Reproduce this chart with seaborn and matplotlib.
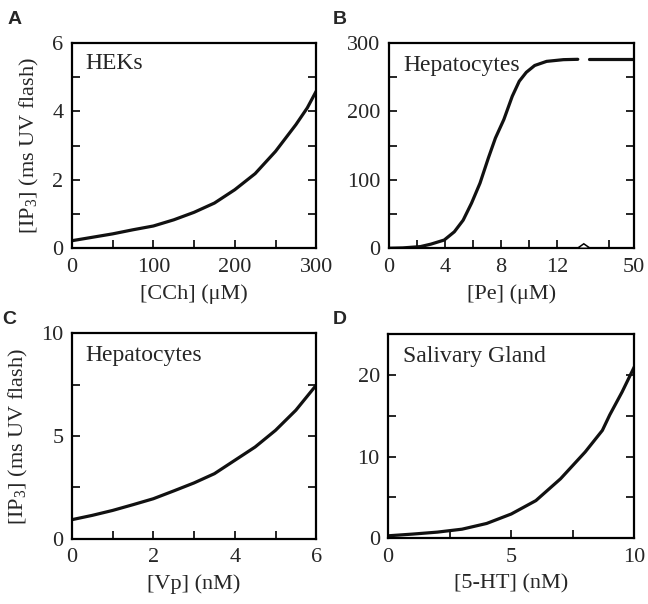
#!/usr/bin/env python3
"""Four-panel IP3 dose-response figure (HEKs, hepatocytes, salivary gland)."""

import matplotlib

matplotlib.use("Agg")
import matplotlib.pyplot as plt
from matplotlib.ticker import FixedLocator
import pandas as pd
import seaborn as sns

# Panel A: HEKs, carbachol
CCH_UM = [0, 25, 50, 75, 100, 125, 150, 175, 200, 225, 250, 275, 289, 300]
IP3_A = [0.22, 0.32, 0.42, 0.54, 0.65, 0.83, 1.05, 1.32, 1.71, 2.18, 2.83, 3.61, 4.1, 4.59]

# Panel B: hepatocytes, phenylephrine (axis broken after 12 uM; right end is 50 uM)
PE_UM = [0, 1, 2.25, 3.0, 3.95, 4.67, 5.3, 5.9, 6.5, 7.1, 7.6, 8.2, 8.8, 9.3, 9.8, 10.4,
         11.25, 12.45, 13.47]
IP3_B = [0, 0.5, 2.4, 6, 12, 24, 41, 66, 95, 132, 161, 188, 222, 244, 257, 267,
         273, 275.5, 276]
PE_TAIL = [14.26, 17.46]
IP3_B_TAIL = [276, 276]
PE_TICKS = [0, 4, 8, 12, 17.46]
PE_TICKLABELS = ["0", "4", "8", "12", "50"]

# Panel C: hepatocytes, vasopressin
VP_NM = [0, 0.5, 1, 1.5, 2, 2.5, 3, 3.5, 4, 4.5, 5, 5.5, 6]
IP3_C = [0.93, 1.14, 1.38, 1.66, 1.95, 2.33, 2.72, 3.17, 3.82, 4.47, 5.28, 6.26, 7.48]

# Panel D: salivary gland, 5-HT
HT_NM = [0, 1, 2, 3, 4, 5, 6, 7, 8, 8.7, 9, 9.5, 10]
IP3_D = [0.29, 0.5, 0.74, 1.1, 1.8, 2.96, 4.6, 7.27, 10.55, 13.2, 15.1, 17.9, 21.0]

YLABEL = "[IP$_3$] (ms UV flash)"
LW = 2.3


def style_axis(ax, xmajor, xminor, ymajor, yminor):
    ax.xaxis.set_major_locator(FixedLocator(xmajor))
    ax.xaxis.set_minor_locator(FixedLocator(xminor))
    ax.yaxis.set_major_locator(FixedLocator(ymajor))
    ax.yaxis.set_minor_locator(FixedLocator(yminor))
    ax.tick_params(which="both", direction="in", length=6, width=1.4,
                   left=True, right=True, bottom=True, top=False, labelsize=16)
    ax.tick_params(axis="x", pad=7)
    ax.tick_params(axis="y", pad=6)
    for s in ax.spines.values():
        s.set_linewidth(1.6)
        s.set_color("black")
        s.set_visible(True)
    ax.grid(False)


def curve(ax, x, y):
    sns.lineplot(data=pd.DataFrame({"x": x, "y": y}), x="x", y="y", ax=ax,
                 color="#111111", linewidth=LW, estimator=None, sort=False)


sns.set_theme(style="ticks")
plt.rcParams["font.family"] = ["Liberation Serif", "DejaVu Serif"]
plt.rcParams["mathtext.fontset"] = "custom"
plt.rcParams["mathtext.rm"] = "Liberation Serif"
plt.rcParams["mathtext.it"] = "Liberation Serif:italic"

fig = plt.figure(figsize=(6.48, 6.04), dpi=100)
axA = fig.add_axes([0.111, 0.589, 0.377, 0.340])
axB = fig.add_axes([0.600, 0.589, 0.378, 0.340])
axC = fig.add_axes([0.111, 0.108, 0.377, 0.340])
axD = fig.add_axes([0.599, 0.109, 0.380, 0.338])

# A
curve(axA, CCH_UM, IP3_A)
axA.set_xlim(0, 300)
axA.set_ylim(0, 6)
style_axis(axA, [0, 100, 200, 300], [50, 150, 250], [0, 2, 4, 6], [1, 3, 5])
axA.set_xlabel("[CCh] (\u03bcM)", fontsize=16, labelpad=5)
axA.set_ylabel(YLABEL, fontsize=16, labelpad=8)
axA.text(0.057, 0.90, "HEKs", transform=axA.transAxes, fontsize=17, va="center", ha="left")

# B
curve(axB, PE_UM, IP3_B)
curve(axB, PE_TAIL, IP3_B_TAIL)
axB.set_xlim(0, 17.46)
axB.set_ylim(0, 300)
style_axis(axB, PE_TICKS, [2, 6, 10, 15.7], [0, 100, 200, 300], [50, 150, 250])
axB.set_xticklabels(PE_TICKLABELS)
axB.fill([13.45, 13.9, 14.35], [0, 6.5, 0], facecolor="white", edgecolor="black",
         linewidth=1.1, clip_on=False, zorder=5)
axB.set_xlabel("[Pe] (\u03bcM)", fontsize=16, labelpad=5)
axB.set_ylabel("")
axB.text(0.06, 0.89, "Hepatocytes", transform=axB.transAxes, fontsize=17, va="center", ha="left")

# C
curve(axC, VP_NM, IP3_C)
axC.set_xlim(0, 6)
axC.set_ylim(0, 10)
style_axis(axC, [0, 2, 4, 6], [1, 3, 5], [0, 5, 10], [2.5, 7.5])
axC.set_xlabel("[Vp] (nM)", fontsize=16, labelpad=5)
axC.set_ylabel(YLABEL, fontsize=16, labelpad=8)
axC.text(0.057, 0.89, "Hepatocytes", transform=axC.transAxes, fontsize=17, va="center", ha="left")

# D
curve(axD, HT_NM, IP3_D)
axD.set_xlim(0, 10)
axD.set_ylim(0, 25)
style_axis(axD, [0, 5, 10], [2.5, 7.5], [0, 10, 20], [5, 15])
axD.set_xlabel("[5-HT] (nM)", fontsize=16, labelpad=5)
axD.set_ylabel("")
axD.text(0.06, 0.89, "Salivary Gland", transform=axD.transAxes, fontsize=17, va="center", ha="left")

for letter, (x, y) in zip("ABCD", [(8, 20), (333, 19), (2, 319), (333, 319)]):
    fig.text(x / 648, 1 - y / 604, letter, fontsize=14, fontweight="bold",
             family=["Liberation Sans", "DejaVu Sans"], ha="left", va="center")

fig.savefig("out.png", dpi=100)
